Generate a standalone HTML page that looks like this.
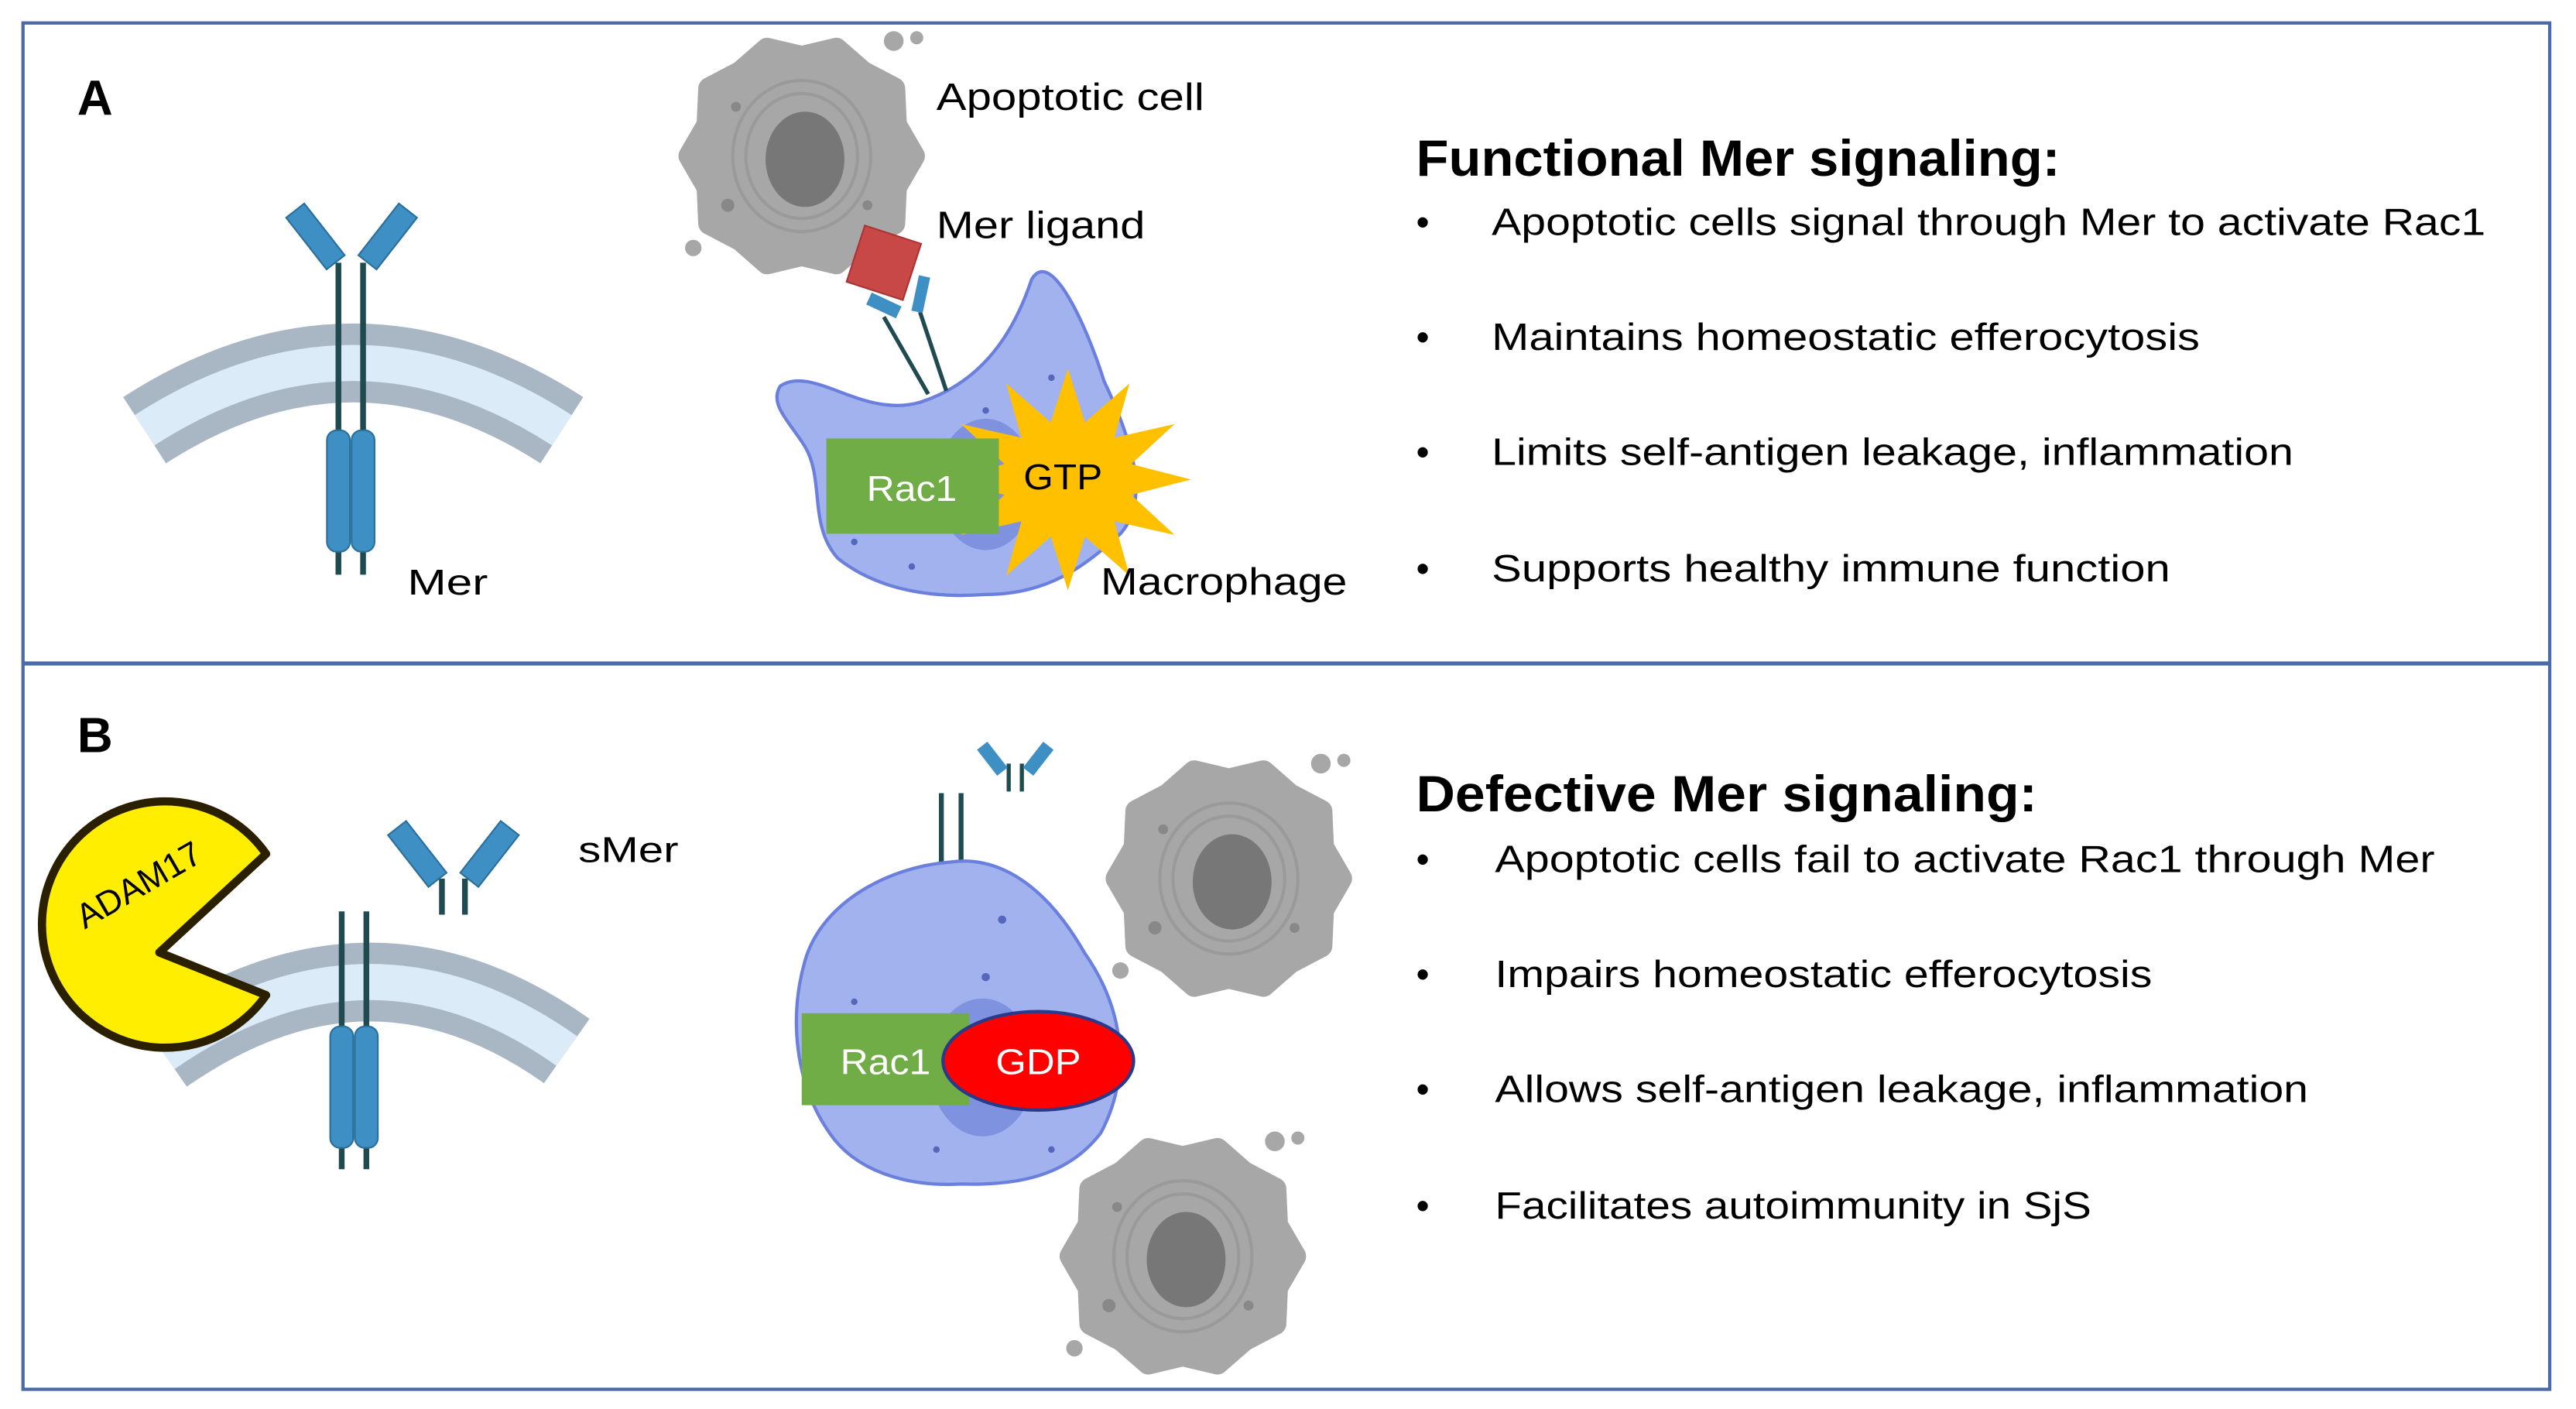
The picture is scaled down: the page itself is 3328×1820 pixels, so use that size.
<!DOCTYPE html>
<html><head><meta charset="utf-8"><style>
html,body{margin:0;padding:0;background:#fff;}
svg{display:block;}
text{font-family:"Liberation Sans",sans-serif;}
</style></head><body>
<svg width="3328" height="1820" viewBox="0 0 1568 858" preserveAspectRatio="none" xmlns="http://www.w3.org/2000/svg">
<defs>
<g id="apo">
<polygon points="68,0 57,19 56,41 37,51 21,65 0,60 -21,65 -37,51 -56,41 -57,19 -68,0 -57,-19 -56,-41 -37,-51 -21,-65 0,-60 21,-65 37,-51 56,-41 57,-19" fill="#a7a7a7" stroke="#a7a7a7" stroke-width="14" stroke-linejoin="round"/>
<ellipse cx="0" cy="0" rx="42" ry="46" fill="none" stroke="#9a9a9a" stroke-width="2"/>
<ellipse cx="0" cy="0" rx="34" ry="38" fill="none" stroke="#9a9a9a" stroke-width="2"/>
<ellipse cx="2" cy="2" rx="24" ry="29" fill="#777"/>
<circle cx="-40" cy="-30" r="3" fill="#888"/><circle cx="40" cy="30" r="3" fill="#888"/><circle cx="-45" cy="30" r="4" fill="#888"/>
<circle cx="56" cy="-70" r="6" fill="#a7a7a7"/><circle cx="70" cy="-72" r="4" fill="#a7a7a7"/><circle cx="-66" cy="56" r="5" fill="#a7a7a7"/>
</g>
</defs>
<rect x="14" y="14" width="1538" height="832" fill="none" stroke="#4a6aa8" stroke-width="2"/>
<line x1="14" y1="404" x2="1552" y2="404" stroke="#4a6aa8" stroke-width="2.5"/>

<!-- Panel A -->
<text x="47" y="70" font-size="30" font-weight="bold">A</text>
<path d="M88,262 Q215,180 342,262" fill="none" stroke="#a9b6c3" stroke-width="48"/>
<path d="M88,262 Q215,180 342,262" fill="none" stroke="#dcebf8" stroke-width="22"/>
<line x1="206" y1="160" x2="206" y2="350" stroke="#1f4a4f" stroke-width="3.5"/>
<line x1="221" y1="160" x2="221" y2="350" stroke="#1f4a4f" stroke-width="3.5"/>
<rect x="199" y="262" width="14" height="74" rx="6" fill="#3d8fc4" stroke="#2a6f9a"/>
<rect x="214" y="262" width="14" height="74" rx="6" fill="#3d8fc4" stroke="#2a6f9a"/>
<rect x="185" y="124" width="14" height="40" fill="#3d8fc4" stroke="#2a6f9a" transform="rotate(-38 192 144)"/>
<rect x="229" y="124" width="14" height="40" fill="#3d8fc4" stroke="#2a6f9a" transform="rotate(38 236 144)"/>
<text x="248" y="362" font-size="22" textLength="49" lengthAdjust="spacingAndGlyphs">Mer</text>

<use href="#apo" transform="translate(488,95)"/>
<text x="570" y="67" font-size="23" textLength="163" lengthAdjust="spacingAndGlyphs">Apoptotic cell</text>
<text x="570" y="145" font-size="23" textLength="127" lengthAdjust="spacingAndGlyphs">Mer ligand</text>
<path d="M475,235 C495,222 525,255 560,245 C600,232 618,200 628,170 C640,150 662,200 672,232 C690,270 700,305 682,325 C660,345 638,362 600,362 C560,365 530,356 510,340 C492,320 502,292 490,272 C480,256 468,246 475,235 Z" fill="#a2b2ee" stroke="#6a80dc" stroke-width="2"/>
<ellipse cx="600" cy="295" rx="30" ry="40" fill="#7f92e0"/>
<circle cx="520" cy="330" r="2" fill="#5566bb"/><circle cx="640" cy="230" r="2" fill="#5566bb"/><circle cx="555" cy="345" r="2" fill="#5566bb"/><circle cx="600" cy="250" r="2" fill="#5566bb"/>
<line x1="565" y1="240" x2="538" y2="193" stroke="#1f4a4f" stroke-width="2.5"/>
<line x1="576" y1="238" x2="560" y2="190" stroke="#1f4a4f" stroke-width="2.5"/>
<rect x="528" y="182" width="20" height="8" fill="#3d8fc4" transform="rotate(25 538 186)"/>
<rect x="557" y="168" width="7" height="22" fill="#3d8fc4" transform="rotate(12 560 179)"/>
<rect x="520" y="142" width="36" height="36" fill="#c84848" stroke="#a33" transform="rotate(18 538 160)"/>
<polygon transform="translate(650,292) scale(1,0.9)" points="75,0 38.6,10.4 65,37.5 28.3,28.3 37.5,65 10.4,38.6 0,75 -10.4,38.6 -37.5,65 -28.3,28.3 -65,37.5 -38.6,10.4 -75,0 -38.6,-10.4 -65,-37.5 -28.3,-28.3 -37.5,-65 -10.4,-38.6 0,-75 10.4,-38.6 37.5,-65 28.3,-28.3 65,-37.5 38.6,-10.4" fill="#ffc000"/>
<rect x="503" y="267" width="105" height="58" fill="#70ad47"/>
<text x="555" y="305" font-size="22" fill="#fff" text-anchor="middle" textLength="55" lengthAdjust="spacingAndGlyphs">Rac1</text>
<text x="647" y="298" font-size="22" text-anchor="middle" textLength="48" lengthAdjust="spacingAndGlyphs">GTP</text>
<text x="670" y="362" font-size="23" textLength="150" lengthAdjust="spacingAndGlyphs">Macrophage</text>

<text x="862" y="107" font-size="31" font-weight="bold" textLength="392" lengthAdjust="spacingAndGlyphs">Functional Mer signaling:</text>
<g font-size="23">
<text x="862" y="143">•</text><text x="908" y="143" textLength="605" lengthAdjust="spacingAndGlyphs">Apoptotic cells signal through Mer to activate Rac1</text>
<text x="862" y="213">•</text><text x="908" y="213" textLength="431" lengthAdjust="spacingAndGlyphs">Maintains homeostatic efferocytosis</text>
<text x="862" y="283">•</text><text x="908" y="283" textLength="488" lengthAdjust="spacingAndGlyphs">Limits self-antigen leakage, inflammation</text>
<text x="862" y="354">•</text><text x="908" y="354" textLength="413" lengthAdjust="spacingAndGlyphs">Supports healthy immune function</text>
</g>

<!-- Panel B -->
<text x="47" y="458" font-size="30" font-weight="bold">B</text>
<path d="M100,642 Q225,555 345,640" fill="none" stroke="#a9b6c3" stroke-width="48"/>
<path d="M100,642 Q225,555 345,640" fill="none" stroke="#dcebf8" stroke-width="22"/>
<line x1="208" y1="555" x2="208" y2="712" stroke="#1f4a4f" stroke-width="3.5"/>
<line x1="223" y1="555" x2="223" y2="712" stroke="#1f4a4f" stroke-width="3.5"/>
<rect x="201" y="625" width="14" height="74" rx="6" fill="#3d8fc4" stroke="#2a6f9a"/>
<rect x="216" y="625" width="14" height="74" rx="6" fill="#3d8fc4" stroke="#2a6f9a"/>
<line x1="269" y1="535" x2="269" y2="557" stroke="#1f4a4f" stroke-width="3.5"/>
<line x1="283" y1="535" x2="283" y2="557" stroke="#1f4a4f" stroke-width="3.5"/>
<rect x="247" y="500" width="14" height="40" fill="#3d8fc4" stroke="#2a6f9a" transform="rotate(-38 254 520)"/>
<rect x="291" y="500" width="14" height="40" fill="#3d8fc4" stroke="#2a6f9a" transform="rotate(38 298 520)"/>
<text x="352" y="525" font-size="22" textLength="61" lengthAdjust="spacingAndGlyphs">sMer</text>
<path d="M162,520 L97,580 L162,606 A75,75 0 1,1 162,520 Z" fill="#ffee00" stroke="#2a2000" stroke-width="5" stroke-linejoin="round"/>
<text x="88" y="545" font-size="21" transform="rotate(-30 88 545)" text-anchor="middle">ADAM17</text>

<line x1="573" y1="483" x2="573" y2="527" stroke="#1f4a4f" stroke-width="3"/>
<line x1="585" y1="483" x2="585" y2="527" stroke="#1f4a4f" stroke-width="3"/>
<line x1="614" y1="465" x2="614" y2="482" stroke="#1f4a4f" stroke-width="2.5"/>
<line x1="622" y1="465" x2="622" y2="482" stroke="#1f4a4f" stroke-width="2.5"/>
<rect x="600" y="452" width="8" height="20" fill="#3d8fc4" transform="rotate(-38 604 462)"/>
<rect x="628" y="452" width="8" height="20" fill="#3d8fc4" transform="rotate(38 632 462)"/>
<path d="M578,525 C612,520 640,545 660,580 C688,620 686,660 670,690 C650,716 620,722 585,721 C550,723 520,712 505,690 C484,660 480,620 490,585 C500,550 540,528 578,525 Z" fill="#a2b2ee" stroke="#6a80dc" stroke-width="2"/>
<ellipse cx="598" cy="650" rx="32" ry="42" fill="#7f92e0"/>
<circle cx="520" cy="610" r="2" fill="#5566bb"/><circle cx="610" cy="560" r="2.5" fill="#5566bb"/><circle cx="640" cy="700" r="2" fill="#5566bb"/><circle cx="570" cy="700" r="2" fill="#5566bb"/><circle cx="600" cy="595" r="2.5" fill="#5566bb"/>
<rect x="488" y="617" width="102" height="56" fill="#70ad47"/>
<text x="539" y="654" font-size="22" fill="#fff" text-anchor="middle" textLength="55" lengthAdjust="spacingAndGlyphs">Rac1</text>
<ellipse cx="632" cy="646" rx="58" ry="30" fill="#ff0000" stroke="#2a3a8a" stroke-width="2"/>
<text x="632" y="654" font-size="22" fill="#fff" text-anchor="middle" textLength="52" lengthAdjust="spacingAndGlyphs">GDP</text>
<use href="#apo" transform="translate(748,535)"/>
<use href="#apo" transform="translate(720,765)"/>

<text x="862" y="494" font-size="31" font-weight="bold" textLength="378" lengthAdjust="spacingAndGlyphs">Defective Mer signaling:</text>
<g font-size="23">
<text x="862" y="531">•</text><text x="910" y="531" textLength="572" lengthAdjust="spacingAndGlyphs">Apoptotic cells fail to activate Rac1 through Mer</text>
<text x="862" y="601">•</text><text x="910" y="601" textLength="400" lengthAdjust="spacingAndGlyphs">Impairs homeostatic efferocytosis</text>
<text x="862" y="671">•</text><text x="910" y="671" textLength="495" lengthAdjust="spacingAndGlyphs">Allows self-antigen leakage, inflammation</text>
<text x="862" y="742">•</text><text x="910" y="742" textLength="363" lengthAdjust="spacingAndGlyphs">Facilitates autoimmunity in SjS</text>
</g>
</svg>
</body></html>
